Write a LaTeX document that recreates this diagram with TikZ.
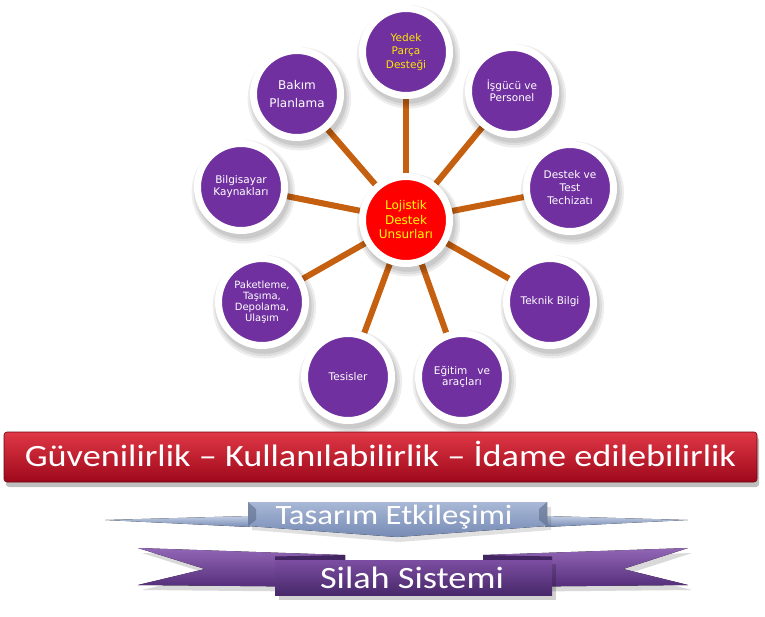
\documentclass[tikz,border=0pt]{standalone}
\usepackage{fontspec}
\setmainfont{Carlito}
\newfontfamily\lab{DejaVu Sans}
\newfontfamily\wide{Carlito}[FakeStretch=1.17]
\usetikzlibrary{shadows,backgrounds}
\definecolor{itempurple}{RGB}{112,48,160}
\definecolor{spokecol}{RGB}{197,96,17}
\definecolor{hubyellow}{RGB}{255,255,0}
\definecolor{partyellow}{RGB}{255,230,0}
\definecolor{bantop}{RGB}{224,56,70}
\definecolor{banbot}{RGB}{158,8,26}
\definecolor{tastop}{RGB}{168,184,214}
\definecolor{tasbot}{RGB}{118,138,180}
\definecolor{ribtop}{RGB}{146,102,182}
\definecolor{ribbot}{RGB}{84,46,122}
\definecolor{boxtop}{RGB}{124,78,162}
\definecolor{boxbot}{RGB}{72,40,106}
\tikzset{
  softshadow/.style={
    drop shadow={shadow xshift=2pt, shadow yshift=-4pt, opacity=.07, fill=black, shadow scale=1.19},
    drop shadow={shadow xshift=2pt, shadow yshift=-4pt, opacity=.07, fill=black, shadow scale=1.14},
    drop shadow={shadow xshift=2pt, shadow yshift=-4pt, opacity=.08, fill=black, shadow scale=1.09}},
  item/.style={circle, fill=itempurple, draw=white, line width=7pt,
    minimum size=87pt, inner sep=0pt, align=center, text=white,
    font=\lab\fontsize{10.5}{12}\selectfont, softshadow},
  hub/.style={item, fill=red, text=hubyellow,
    font=\lab\fontsize{12}{14.5}\selectfont},
  spoke/.style={draw=spokecol, line width=6pt},
  banner/.style={rounded corners=3pt, top color=bantop, bottom color=banbot,
    draw=banbot!70!black, line width=.6pt, minimum width=753pt,
    minimum height=50pt, inner sep=0pt, text height=18pt, text depth=0pt,
    text=white, font=\wide\fontsize{31}{33}\selectfont,
    drop shadow={shadow xshift=2pt, shadow yshift=-5pt, opacity=.25, fill=black}},
  ribtext/.style={text=white, inner sep=0pt, anchor=base},
}
\begin{document}
\begin{tikzpicture}[x=1pt,y=-1pt]
\useasboundingbox (0,0) rectangle (765,616);

% hub and items
\node[hub] (hub) at (406,220) {Lojistik\\Destek\\Unsurları};
\node[item, text=partyellow, font=\lab\fontsize{10.5}{13.5}\selectfont] (yedek) at (406,52) {Yedek\\Parça\\Desteği};
\node[item, font=\lab\fontsize{12}{18}\selectfont] (bakim) at (297,94) {Bakım\\Planlama};
\node[item] (isgucu) at (512,91) {İşgücü ve\\Personel};
\node[item] (bilgi) at (241,187) {Bilgisayar\\Kaynakları};
\node[item, font=\lab\fontsize{10.5}{13}\selectfont] (destek) at (570,188) {Destek ve\\Test\\Techizatı};
\node[item, font=\lab\fontsize{10}{11}\selectfont] (paket) at (262,302) {Paketleme,\\Taşıma,\\Depolama,\\Ulaşım};
\node[item] (teknik) at (550,302) {Teknik Bilgi};
\node[item] (tesis) at (348,377) {Tesisler};
\node[item, font=\lab\fontsize{10.5}{11}\selectfont] (egitim) at (462,377) {Eğitim~~~ve\\araçları};

\begin{scope}[on background layer]
  \fill[white] (0,0) rectangle (765,616);
  \foreach \n in {yedek,bakim,isgucu,bilgi,destek,paket,teknik,tesis,egitim}
    \draw[spoke] (hub) -- (\n);
\end{scope}

% red banner
\node[banner] (rel) at (380.5,457) {Güvenilirlik – Kullanılabilirlik – İdame edilebilirlik};

% Tasarim ribbon
\fill[top color=tastop!70!white, bottom color=tasbot] (105,520) -- (250,516) -- (250,527) -- cycle;
\fill[top color=tastop!70!white, bottom color=tasbot] (688,520) -- (545,516) -- (545,527) -- cycle;
\fill[black, opacity=.12] (252,507) -- (551,507) -- (551,530) -- (399,542) -- (252,530) -- cycle;
\fill[top color=tastop, bottom color=tasbot] (248,502) -- (547,502) -- (547,526) -- (397,537) -- (248,526) -- cycle;
\fill[tasbot!70!black, opacity=.5] (248,502) -- (256,509) -- (256,520) -- (248,526) -- cycle;
\fill[tasbot!70!black, opacity=.5] (547,502) -- (539,509) -- (539,520) -- (547,526) -- cycle;
\node[ribtext, font=\wide\fontsize{28}{30}\selectfont] (tas) at (394,524) {Tasarım Etkileşimi};

% Silah ribbon
\fill[black, opacity=.15] (142,553) -- (349,560) -- (349,592) -- (142,590) -- (209,574) -- cycle;
\fill[black, opacity=.15] (692,553) -- (487,560) -- (487,592) -- (692,590) -- (627,574) -- cycle;
\fill[top color=ribtop, bottom color=ribbot] (138,548) -- (345,555) -- (345,587) -- (138,585) -- (205,569) -- cycle;
\fill[top color=ribtop, bottom color=ribbot] (688,548) -- (483,555) -- (483,587) -- (688,585) -- (623,569) -- cycle;
\fill[ribbot!80!black] (275,556.5) -- (345,555) -- (345,561) -- (275,561) -- cycle;
\fill[ribbot!80!black] (552,556.5) -- (483,555) -- (483,561) -- (552,561) -- cycle;
\fill[black, opacity=.18] (279,564) rectangle (556,600);
\fill[top color=boxtop, bottom color=boxbot] (275,560) rectangle (552,595);
\node[ribtext, font=\wide\fontsize{31}{33}\selectfont] (silah) at (412,588) {Silah Sistemi};
\end{tikzpicture}
\end{document}
